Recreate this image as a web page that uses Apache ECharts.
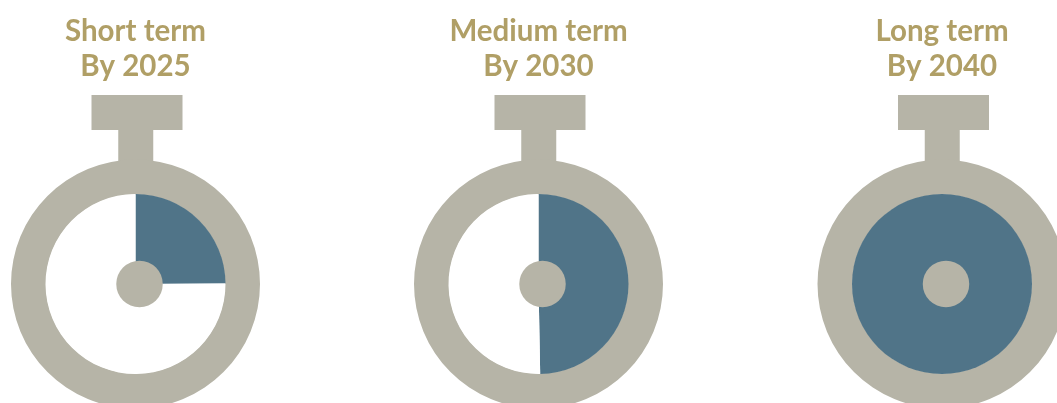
<!DOCTYPE html>
<html>
<head>
<meta charset="utf-8">
<style>html,body{margin:0;padding:0;background:#fff}#c{width:1057px;height:403px}</style>
<script src="https://cdn.jsdelivr.net/npm/echarts@6/dist/echarts.min.js"></script>
</head>
<body>
<div id="c"></div>
<script>
// Share of each timer dial that is filled, in percent
const horizons = ['Short term', 'Medium term', 'Long term'];
const deadlines = ['By 2025', 'By 2030', 'By 2040'];
const filled = [24.9, 49.7, 100];

const centersX = [135.5, 538.5, 942];
const centerY = 284;
const frame = '#b6b4a7', fill = '#507488', gold = '#b09f66';

const chart = echarts.init(document.getElementById('c'));
const series = [], graphic = [];

horizons.forEach((h, i) => {
  const cx = centersX[i];
  // Crown and stem of the stopwatch; the crown sits a little right of the dial axis
  graphic.push(
    {type:'rect', z:1, shape:{x:cx-44, y:95, width:91, height:35}, style:{fill:frame}},
    {type:'rect', z:1, shape:{x:cx-17.25, y:125, width:35, height:45}, style:{fill:frame}},
    {type:'text', z:5, style:{x:cx, y:31, text:h, fill:gold, font:'700 29.5px Lato', align:'center', verticalAlign:'middle'}},
    {type:'text', z:5, style:{x:cx, y:66, text:deadlines[i], fill:gold, font:'700 29.5px Lato', align:'center', verticalAlign:'middle'}}
  );
  // Outer ring
  series.push({type:'pie', silent:true, z:2, radius:[89.5,124.5], center:[cx,centerY], label:{show:false}, labelLine:{show:false},
    data:[{value:1, itemStyle:{color:frame}}]});
  // Elapsed share, clockwise from twelve o'clock
  series.push({type:'pie', silent:true, z:3, radius:[0,90], center:[cx,centerY], startAngle:90, clockwise:true, label:{show:false}, labelLine:{show:false},
    data:[{value:filled[i], itemStyle:{color:fill}}, {value:100-filled[i], itemStyle:{color:'#fff'}}]});
  // Hub
  series.push({type:'pie', silent:true, z:4, radius:[0,23.25], center:[cx+4,centerY], label:{show:false}, labelLine:{show:false},
    data:[{value:1, itemStyle:{color:frame}}]});
});

chart.setOption({animation:false, graphic:{elements:graphic}, series});
</script>
</body>
</html>
